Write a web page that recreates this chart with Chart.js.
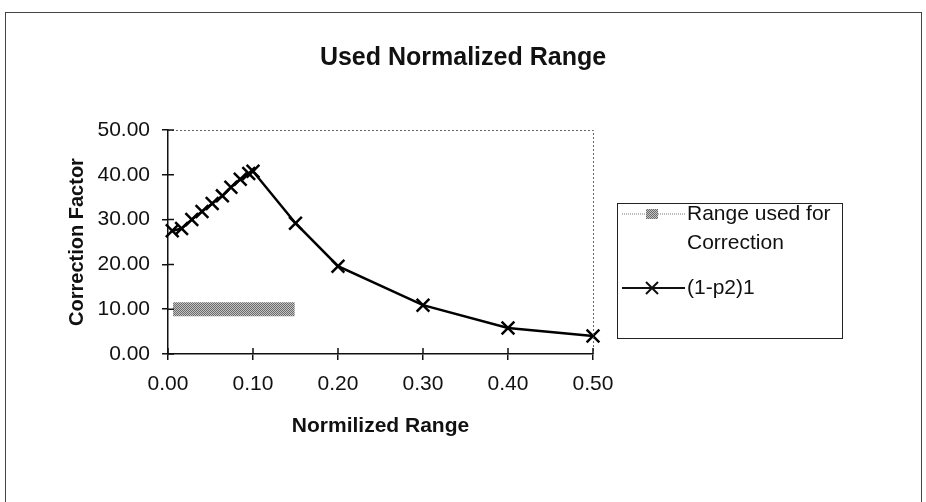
<!DOCTYPE html>
<html>
<head>
<meta charset="utf-8">
<script src="https://cdn.jsdelivr.net/npm/chart.js@4.4.0/dist/chart.umd.min.js"></script>
<style>
  html, body { margin: 0; padding: 0; background: #fff; }
  #wrap { position: relative; width: 926px; height: 502px; overflow: hidden; }
  #frame { position: absolute; left: 5px; top: 12px; width: 915px; height: 520px; border: 1px solid #444; }
  #chart { position: absolute; left: 0; top: 0; }
</style>
</head>
<body>
<div id="wrap">
  <div id="frame"></div>
  <canvas id="chart" width="926" height="502"></canvas>
</div>
<script>
// ─── Data ──────────────────────────────────────────────────────────────────
const chartTitle = 'Used Normalized Range';
const xTitle = 'Normilized Range';
const yTitle = 'Correction Factor';

const rangeLabel = ['Range used for', 'Correction'];
const rangeX = [0.006, 0.149];
const rangeY = [10, 10];

const curveLabel = '(1-p2)1';
const curveX = [0.005, 0.016, 0.028, 0.040, 0.052, 0.064, 0.074, 0.085, 0.095, 0.100, 0.15, 0.20, 0.30, 0.40, 0.50];
const curveY = [27.5, 28.0, 30.0, 31.8, 33.6, 35.3, 37.2, 39.0, 40.3, 40.8, 29.2, 19.6, 10.9, 5.8, 4.0];

const xTicks = [0, 0.1, 0.2, 0.3, 0.4, 0.5];
const yTicks = [0, 10, 20, 30, 40, 50];

const FONT = "'Liberation Sans', Arial, sans-serif";

// dithered grey like the scanned bar
function makeDither() {
  const c = document.createElement('canvas');
  c.width = 4; c.height = 4;
  const g = c.getContext('2d');
  g.fillStyle = '#c4c4c4';
  g.fillRect(0, 0, 4, 4);
  g.fillStyle = '#6a6a6a';
  [[0,0],[2,0],[1,1],[3,1],[0,2],[2,2],[3,3],[1,3]].forEach(([x, y]) => g.fillRect(x, y, 1, 1));
  return g.createPattern(c, 'repeat');
}
const dither = makeDither();

// ─── Decorations: title, plot frame, crossing ticks, legend ───────────────
const decor = {
  id: 'decor',
  afterDraw(chart) {
    const { ctx, chartArea: a, scales: { x, y } } = chart;
    ctx.save();

    // title
    ctx.fillStyle = '#111';
    ctx.font = `bold 25px ${FONT}`;
    ctx.textAlign = 'center';
    ctx.textBaseline = 'middle';
    ctx.fillText(chartTitle, 463, 58);

    // dotted top/right frame of plot area
    ctx.strokeStyle = '#666';
    ctx.lineWidth = 1;
    ctx.setLineDash([2, 2]);
    ctx.beginPath();
    ctx.moveTo(a.left, a.top + 0.5);
    ctx.lineTo(a.right + 0.5, a.top + 0.5);
    ctx.lineTo(a.right + 0.5, a.bottom);
    ctx.stroke();
    ctx.setLineDash([]);

    // inner half of the crossing tick marks
    ctx.strokeStyle = '#111';
    ctx.lineWidth = 1.5;
    ctx.beginPath();
    yTicks.forEach(v => { const py = y.getPixelForValue(v); ctx.moveTo(a.left, py); ctx.lineTo(a.left + 6, py); });
    xTicks.forEach(v => { const px = x.getPixelForValue(v); ctx.moveTo(px, a.bottom); ctx.lineTo(px, a.bottom - 6); });
    ctx.stroke();

    // legend box
    const lx = 617, ly = 203, lw = 225, lh = 135;
    ctx.strokeStyle = '#222';
    ctx.lineWidth = 1;
    ctx.strokeRect(lx + 0.5, ly + 0.5, lw, lh);

    ctx.font = `21px ${FONT}`;
    ctx.textAlign = 'left';
    ctx.fillStyle = '#111';

    // entry 1
    ctx.strokeStyle = '#777';
    ctx.setLineDash([1, 1]);
    ctx.beginPath(); ctx.moveTo(622, 214); ctx.lineTo(685, 214); ctx.stroke();
    ctx.setLineDash([]);
    ctx.fillStyle = dither;
    ctx.fillRect(646, 209, 12, 10);
    ctx.fillStyle = '#111';
    ctx.fillText(rangeLabel[0], 687, 214);
    ctx.fillText(rangeLabel[1], 687, 243);

    // entry 2
    ctx.strokeStyle = '#111';
    ctx.lineWidth = 2;
    ctx.beginPath(); ctx.moveTo(622, 288); ctx.lineTo(685, 288); ctx.stroke();
    ctx.beginPath();
    ctx.moveTo(646, 282); ctx.lineTo(658, 294);
    ctx.moveTo(658, 282); ctx.lineTo(646, 294);
    ctx.stroke();
    ctx.fillText(curveLabel, 687, 288);

    ctx.restore();
  }
};

new Chart(document.getElementById('chart'), {
  type: 'line',
  data: {
    datasets: [
      {
        label: rangeLabel.join(' '),
        data: rangeX.map((v, i) => ({ x: v, y: rangeY[i] })),
        borderColor: dither,
        borderWidth: 14,
        borderCapStyle: 'butt',
        pointRadius: 0,
        clip: false,
      },
      {
        label: curveLabel,
        data: curveX.map((v, i) => ({ x: v, y: curveY[i] })),
        borderColor: '#000',
        borderWidth: 2.5,
        tension: 0,
        pointStyle: 'crossRot',
        pointRadius: 9,
        pointBorderWidth: 2.5,
        pointBorderColor: '#000',
        clip: false,
      },
    ],
  },
  options: {
    responsive: false,
    animation: false,
    layout: { padding: { left: 0, top: 130, right: 333, bottom: 0 } },
    plugins: { legend: { display: false }, title: { display: false }, tooltip: { enabled: false } },
    scales: {
      x: {
        type: 'linear',
        min: 0, max: 0.5,
        afterFit: s => { s.height = 148; },
        afterBuildTicks: s => { s.ticks = xTicks.map(v => ({ value: v })); },
        ticks: { color: '#111', font: { family: FONT, size: 21 }, padding: 12, callback: v => Number(v).toFixed(2), maxRotation: 0 },
        grid: { drawOnChartArea: false, drawTicks: true, tickLength: 6, color: '#111', lineWidth: 1.5 },
        border: { display: true, color: '#111', width: 1.5 },
        title: { display: true, text: xTitle, color: '#111', font: { family: FONT, size: 21, weight: 'bold' }, padding: { top: 0, bottom: 63 } },
      },
      y: {
        type: 'linear',
        min: 0, max: 50,
        afterFit: s => { s.width = 168; },
        afterBuildTicks: s => { s.ticks = yTicks.map(v => ({ value: v })); },
        ticks: { color: '#111', font: { family: FONT, size: 21 }, padding: 12, callback: v => Number(v).toFixed(2) },
        grid: { drawOnChartArea: false, drawTicks: true, tickLength: 6, color: '#111', lineWidth: 1.5 },
        border: { display: true, color: '#111', width: 1.5 },
        title: { display: true, text: yTitle, color: '#111', font: { family: FONT, size: 20, weight: 'bold' }, padding: { top: 65, bottom: 0 } },
      },
    },
  },
  plugins: [decor],
});
</script>
</body>
</html>
